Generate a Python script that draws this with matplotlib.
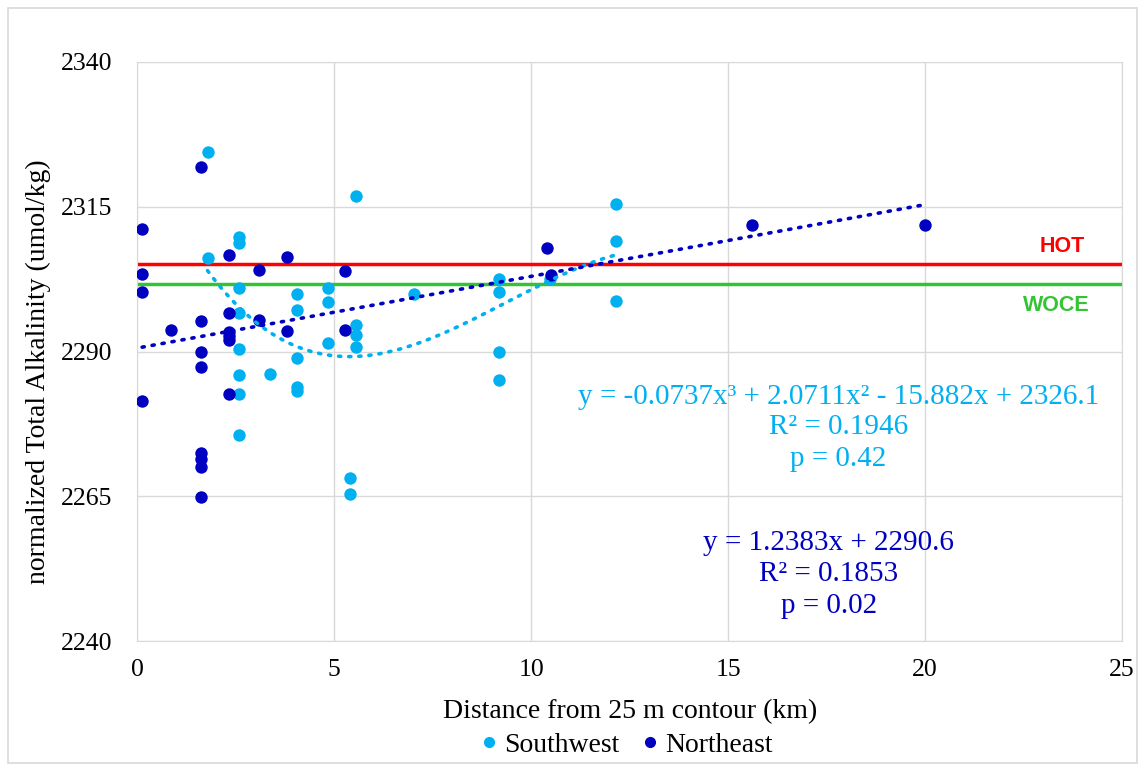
import numpy as np
import matplotlib
matplotlib.use("Agg")
import matplotlib.pyplot as plt
from matplotlib.patches import Rectangle
from matplotlib.lines import Line2D

# ---- data ----
sw_x = [1.78, 1.78, 2.57, 2.57, 2.57, 2.57, 2.57, 2.57, 2.57, 2.57, 3.37,
        4.04, 4.04, 4.04, 4.04, 4.04, 4.83, 4.83, 4.83, 5.41, 5.41,
        5.54, 5.54, 5.54, 5.54, 7.01, 9.17, 9.17, 9.17, 9.17, 10.48,
        12.14, 12.14, 12.14]
sw_y = [2324.5, 2306.1, 2309.7, 2308.8, 2300.9, 2296.6, 2290.4, 2285.9, 2282.7, 2275.5, 2286.1,
        2299.9, 2297.2, 2288.8, 2283.8, 2283.2, 2300.9, 2298.5, 2291.5, 2268.1, 2265.4,
        2316.9, 2294.5, 2292.8, 2290.8, 2299.9, 2302.5, 2300.3, 2289.9, 2285.1, 2302.6,
        2315.4, 2309.0, 2298.8]

ne_x = [0.12, 0.12, 0.12, 0.12, 0.85, 1.61, 1.61, 1.61, 1.61, 1.61, 1.61, 1.61, 1.61,
        2.33, 2.33, 2.33, 2.33, 2.33, 2.33, 3.09, 3.09, 3.80, 3.80, 5.27, 5.27,
        10.40, 10.49, 15.61, 19.99]
ne_y = [2311.2, 2303.4, 2300.2, 2281.5, 2293.8, 2321.8, 2295.3, 2289.9, 2287.3, 2272.4, 2271.5, 2270.0, 2264.8,
        2306.7, 2296.6, 2293.4, 2292.7, 2292.0, 2282.7, 2304.1, 2295.4, 2306.3, 2293.5, 2303.9, 2293.7,
        2307.8, 2303.2, 2311.9, 2311.9]

sw_coef = [-0.0737, 2.0711, -15.882, 2326.1]   # cubic trend
ne_coef = [1.2383, 2290.6]                      # linear trend

hot_level = 2305.1
woce_level = 2301.7

x_ticks = [0, 5, 10, 15, 20, 25]
y_ticks = [2240, 2265, 2290, 2315, 2340]

sw_label = "Southwest"
ne_label = "Northeast"
sw_eq = ["y = -0.0737x³ + 2.0711x² - 15.882x + 2326.1", "R² = 0.1946", "p = 0.42"]
ne_eq = ["y = 1.2383x + 2290.6", "R² = 0.1853", "p = 0.02"]

# ---- style ----
SW_C = "#00B0F0"
NE_C = "#0000C0"
serif = ["Liberation Serif", "DejaVu Serif"]
plt.rcParams["font.family"] = serif

fig = plt.figure(figsize=(11.45, 7.65), dpi=100)
ax = fig.add_axes([0.120, 0.162, 0.860, 0.757])

ax.set_xlim(0, 25)
ax.set_ylim(2240, 2340)
ax.set_xticks(x_ticks)
ax.set_yticks(y_ticks)
ax.grid(True, color="#d9d9d9", linewidth=1.0)
ax.set_axisbelow(True)
for s in ax.spines.values():
    s.set_color("#d9d9d9")
ax.tick_params(length=0, labelsize=18.5, colors="black")
ax.tick_params(axis="y", pad=18)
ax.tick_params(axis="x", pad=13)

ax.axhline(hot_level, color="#FF0000", linewidth=2.5, zorder=2)
ax.axhline(woce_level, color="#33C433", linewidth=2.5, zorder=2)

ax.scatter(sw_x, sw_y, s=80, color=SW_C, zorder=3, linewidths=0)
ax.scatter(ne_x, ne_y, s=80, color=NE_C, zorder=3, linewidths=0)

xs = np.linspace(min(sw_x), max(sw_x), 300)
ax.plot(xs, np.polyval(sw_coef, xs), color=SW_C, linewidth=2.6,
        linestyle=(0, (0.6, 2.2)), dash_capstyle="round", zorder=4)
xn = np.linspace(min(ne_x), max(ne_x), 300)
ax.plot(xn, np.polyval(ne_coef, xn), color=NE_C, linewidth=2.6,
        linestyle=(0, (0.6, 2.2)), dash_capstyle="round", zorder=4)

sans = ["Liberation Sans", "DejaVu Sans"]
ax.text(23.49, 2308.2, "HOT", color="#FF0000", fontsize=15.5, fontweight="bold",
        family=sans, ha="center", va="center")
ax.text(23.33, 2297.9, "WOCE", color="#33C433", fontsize=15.5, fontweight="bold",
        family=sans, ha="center", va="center")

for txt, yy in zip(sw_eq, [2282.1, 2277.0, 2271.4]):
    ax.text(17.8, yy, txt, color=SW_C, fontsize=21, ha="center", va="center")
for txt, yy in zip(ne_eq, [2256.9, 2251.6, 2246.0]):
    ax.text(17.55, yy, txt, color=NE_C, fontsize=21, ha="center", va="center")

fig.text(630 / 1145, 1 - 712 / 765, "Distance from 25 m contour (km)", fontsize=20,
         ha="center", va="center")
fig.text(38 / 1145, 1 - 372 / 765, "normalized Total Alkalinity (umol/kg)", fontsize=20,
         ha="center", va="center", rotation=90)

handles = [Line2D([], [], marker="o", linestyle="", color=SW_C, markersize=7),
           Line2D([], [], marker="o", linestyle="", color=NE_C, markersize=7)]
fig.legend(handles, [sw_label, ne_label], loc="center", bbox_to_anchor=(624 / 1145, 1 - 745 / 765),
           ncol=2, frameon=False, fontsize=20, handletextpad=0.05, columnspacing=0.6,
           handlelength=1.0)

fig.patches.append(Rectangle((8 / 1145, 2 / 765), 1 - 16 / 1145, 1 - 10 / 765,
                             transform=fig.transFigure, fill=False,
                             edgecolor="#d9d9d9", linewidth=1.2))

fig.savefig("out.png", dpi=100)
